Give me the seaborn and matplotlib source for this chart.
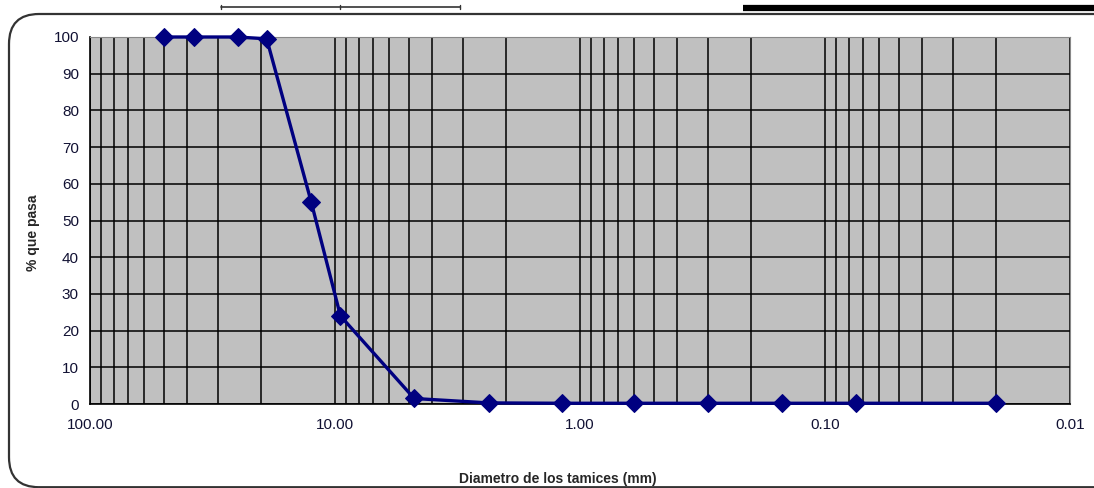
import matplotlib
matplotlib.use("Agg")
import matplotlib.pyplot as plt
import matplotlib.ticker as mticker
from matplotlib.patches import FancyBboxPatch
from matplotlib.lines import Line2D
import pandas as pd
import seaborn as sns

# Sieve sizes (mm) and percent passing
diametro = [50.0, 37.5, 25.0, 19.0, 12.5, 9.5, 4.75, 2.36, 1.18, 0.6, 0.3, 0.15, 0.075, 0.02]
pasa = [100, 100, 100, 99.5, 55, 24, 1.5, 0.3, 0.2, 0.2, 0.2, 0.2, 0.2, 0.2]

x_ticks = [100, 10, 1, 0.1, 0.01]
x_labels = ["100.00", "10.00", "1.00", "0.10", "0.01"]
y_ticks = list(range(0, 101, 10))

df = pd.DataFrame({"diametro": diametro, "pasa": pasa})

sns.set_style("white", {"axes.facecolor": "#c0c0c0"})
plt.rcParams["font.family"] = ["Liberation Sans", "DejaVu Sans"]

fig = plt.figure(figsize=(10.94, 4.88), dpi=100)
ax = fig.add_axes([90 / 1094, 84 / 488, 980 / 1094, 367 / 488])

sns.lineplot(data=df, x="diametro", y="pasa", ax=ax, color="#000080",
             linewidth=2.4, marker="D", markersize=9, markeredgecolor="#000080",
             zorder=5, clip_on=False)

ax.set_xscale("log")
ax.set_xlim(100, 0.01)
ax.set_ylim(0, 100)

ax.set_xticks(x_ticks)
ax.set_xticklabels(x_labels)
ax.xaxis.set_minor_locator(mticker.LogLocator(base=10, subs=range(2, 10)))
ax.xaxis.set_minor_formatter(mticker.NullFormatter())
ax.set_yticks(y_ticks)

ax.grid(which="major", axis="both", color="black", linewidth=1.1)
ax.grid(which="minor", axis="x", color="black", linewidth=1.1)

ax.tick_params(axis="both", which="major", direction="out", length=5, width=1,
               color="black", labelsize=11, labelcolor="#111133", pad=3)
ax.tick_params(axis="x", which="minor", length=0)
ax.tick_params(axis="x", which="major", pad=5)

for side in ["top", "right"]:
    ax.spines[side].set_color("#888888")
for side in ["left", "bottom"]:
    ax.spines[side].set_color("black")
    ax.spines[side].set_linewidth(1.2)

ax.set_xlabel("")
ax.set_ylabel("")
fig.text(558 / 1094, 9 / 488, "Diametro de los tamices (mm)", fontsize=10,
         fontweight="bold", ha="center", va="center")
fig.text(33 / 1094, (488 - 233) / 488, "% que pasa", fontsize=10,
         fontweight="bold", ha="center", va="center", rotation=90)

# rounded frame around the chart
frame = FancyBboxPatch((0.09, 0.008), 11.2, 4.732,
                       boxstyle="round,pad=0,rounding_size=0.3",
                       transform=fig.dpi_scale_trans, facecolor="none",
                       edgecolor="#333333", linewidth=1.6, clip_on=False)
fig.patches.append(frame)

# bits of neighbouring elements visible at the top edge
px = lambda x: x / 100
py = lambda y: (488 - y) / 100
fig.add_artist(Line2D([px(221), px(460)], [py(7), py(7)], color="#333333",
                      linewidth=1.2, transform=fig.dpi_scale_trans))
for xt in [221, 340, 460]:
    fig.add_artist(Line2D([px(xt), px(xt)], [py(5), py(9)], color="#333333",
                          linewidth=1, transform=fig.dpi_scale_trans))
fig.add_artist(Line2D([px(743), px(1094)], [py(8), py(8)], color="black",
                      linewidth=4.5, solid_capstyle="butt",
                      transform=fig.dpi_scale_trans))

fig.savefig("out.png", dpi=100)
